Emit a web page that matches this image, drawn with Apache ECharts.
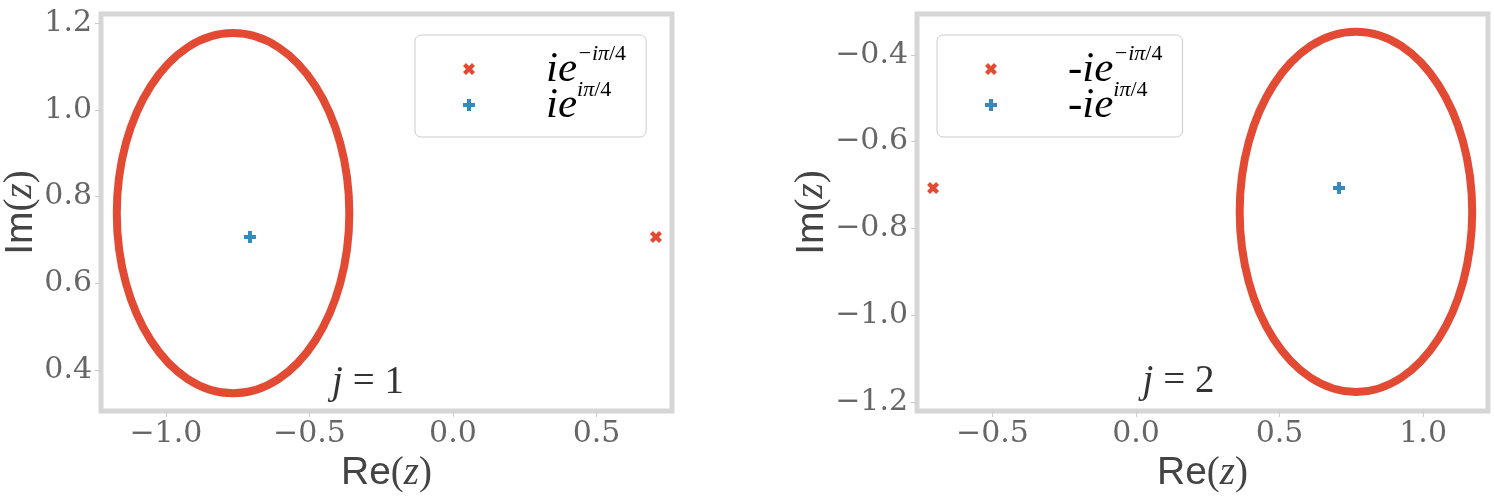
<!DOCTYPE html>
<html>
<head>
<meta charset="utf-8">
<script src="https://cdn.jsdelivr.net/npm/echarts@6/dist/echarts.min.js"></script>
<style>
  html, body { margin: 0; padding: 0; background: #fff; }
  #chart { width: 1494px; height: 504px; }
</style>
</head>
<body>
<div id="chart"></div>
<script>
// panel j = 1
var xTicks1 = [-1.0, -0.5, 0.0, 0.5];
var yTicks1 = [0.4, 0.6, 0.8, 1.0, 1.2];
var xRange1 = [-1.226, 0.763];
var yRange1 = [0.306, 1.221];
var redX1 = [[0.7071, 0.7071]];
var bluePlus1 = [[-0.7071, 0.7071]];
var ring1 = [[-0.766, 0.762, 0.405, 0.415]]; // cx, cy, rx, ry
var note1 = [[-0.296, 0.371]];

// panel j = 2
var xTicks2 = [-0.5, 0.0, 0.5, 1.0];
var yTicks2 = [-1.2, -1.0, -0.8, -0.6, -0.4];
var xRange2 = [-0.763, 1.226];
var yRange2 = [-1.221, -0.306];
var redX2 = [[-0.7071, -0.7071]];
var bluePlus2 = [[0.7071, -0.7071]];
var ring2 = [[0.766, -0.762, 0.405, 0.415]];
var note2 = [[0.148, -1.154]];

var RED = "#E24A33";
var BLUE = "#348ABD";
var FRAME = "#d6d6d6";
var PLUS = "path://M4,0L8,0L8,4L12,4L12,8L8,8L8,12L4,12L4,8L0,8L0,4L4,4Z";
var CROSS = "path://M0,3L3,0L6,3L9,0L12,3L9,6L12,9L9,12L6,9L3,12L0,9L3,6Z";
var SERIF = "'DejaVu Serif', 'Liberation Serif', serif";
var MATH = "'Liberation Serif', 'DejaVu Serif', serif";
var SANS = "'Liberation Sans', 'DejaVu Sans', sans-serif";

var myChart = echarts.init(document.getElementById("chart"));

function fmt(v) {
  return (v < 0 ? "\u2212" : "") + Math.abs(v).toFixed(1);
}

function ringItem(params, api) {
  var c = api.coord([api.value(0), api.value(1)]);
  var s = api.size([api.value(2), api.value(3)]);
  return {
    type: "ellipse",
    shape: { cx: c[0], cy: c[1], rx: s[0], ry: s[1] },
    style: { fill: "none", stroke: RED, lineWidth: 8 },
  };
}

var legendText = {
  r1: "{b|ie}{si|\u2212i\u03c0}{su|/4}",
  b1: "{b|ie}{si|i\u03c0}{su|/4}",
  r2: "{m|-}{b|ie}{si|\u2212i\u03c0}{su|/4}",
  b2: "{m|-}{b|ie}{si|i\u03c0}{su|/4}",
};

var legendRich = {
  b: { fontFamily: MATH, fontStyle: "italic", fontSize: 43, lineHeight: 48, verticalAlign: "bottom", color: "#000" },
  m: { fontFamily: MATH, fontSize: 43, lineHeight: 48, verticalAlign: "bottom", color: "#000" },
  si: { fontFamily: MATH, fontStyle: "italic", fontSize: 22, lineHeight: 20, verticalAlign: "top", color: "#000" },
  su: { fontFamily: MATH, fontSize: 22, lineHeight: 20, verticalAlign: "top", color: "#000" },
};

function makeLegend(left, names) {
  return {
    left: left,
    top: 35,
    orient: "vertical",
    data: [
      { name: names[0], icon: CROSS },
      { name: names[1], icon: PLUS },
    ],
    itemWidth: 12,
    itemHeight: 12,
    itemGap: -12,
    padding: [8, 20, 10, 48],
    backgroundColor: "#fff",
    borderColor: "#cccccc",
    borderWidth: 1,
    borderRadius: 6,
    formatter: function (name) {
      return legendText[name];
    },
    textStyle: { padding: [0, 0, 4, 66], rich: legendRich },
  };
}

var axisNameRich = {
  s: { fontFamily: SANS, fontSize: 39, color: "#444" },
  p: { fontFamily: MATH, fontSize: 39, color: "#444" },
  i: { fontFamily: MATH, fontStyle: "italic", fontSize: 39, color: "#444" },
};

function makeX(idx, range, ticks) {
  return {
    type: "value",
    gridIndex: idx,
    min: range[0],
    max: range[1],
    axisLine: { show: false, onZero: false },
    splitLine: { show: false },
    axisTick: { show: true, length: 6, customValues: ticks, lineStyle: { color: "#cccccc", width: 1 } },
    axisLabel: {
      customValues: ticks,
      formatter: fmt,
      margin: 8,
      fontFamily: SERIF,
      fontSize: 30,
      color: "#666",
    },
    name: "{s|Re}{p|(}{i|z}{p|)}",
    nameLocation: "middle",
    nameGap: 43,
    nameTextStyle: { rich: axisNameRich },
  };
}

function makeY(idx, range, ticks, gap) {
  return {
    type: "value",
    gridIndex: idx,
    min: range[0],
    max: range[1],
    axisLine: { show: false, onZero: false },
    splitLine: { show: false },
    axisTick: { show: true, length: 6, customValues: ticks, lineStyle: { color: "#cccccc", width: 1 } },
    axisLabel: {
      customValues: ticks,
      formatter: fmt,
      margin: 9,
      fontFamily: SERIF,
      fontSize: 30,
      color: "#666",
    },
    name: "{s|Im}{p|(}{i|z}{p|)}",
    nameLocation: "middle",
    nameGap: gap,
    nameTextStyle: { rich: axisNameRich },
  };
}

function noteSeries(idx, data, num) {
  return {
    type: "scatter",
    xAxisIndex: idx,
    yAxisIndex: idx,
    data: data,
    symbolSize: 0,
    silent: true,
    label: {
      show: true,
      position: "inside",
      formatter: "{j|j}{e| = " + num + "}",
      rich: {
        j: { fontFamily: MATH, fontStyle: "italic", fontSize: 39, color: "#000" },
        e: { fontFamily: MATH, fontSize: 39, color: "#000" },
      },
    },
  };
}

function pointSeries(name, idx, data, color, symbol) {
  return {
    name: name,
    type: "scatter",
    xAxisIndex: idx,
    yAxisIndex: idx,
    data: data,
    symbol: symbol,
    symbolSize: 12,
    itemStyle: { color: color, opacity: 1 },
  };
}

var option = {
  animation: false,
  backgroundColor: "#fff",
  grid: [
    { left: 101, top: 14, width: 571, height: 397, show: true, borderColor: FRAME, borderWidth: 5, backgroundColor: "#fff" },
    { left: 917, top: 14, width: 571, height: 397, show: true, borderColor: FRAME, borderWidth: 5, backgroundColor: "#fff" },
  ],
  xAxis: [makeX(0, xRange1, xTicks1), makeX(1, xRange2, xTicks2)],
  yAxis: [makeY(0, yRange1, yTicks1, 37), makeY(1, yRange2, yTicks2, 73)],
  legend: [makeLegend(415, ["r1", "b1"]), makeLegend(937, ["r2", "b2"])],
  series: [
    { type: "custom", xAxisIndex: 0, yAxisIndex: 0, renderItem: ringItem, data: ring1, encode: { x: 0, y: 1 } },
    pointSeries("r1", 0, redX1, RED, CROSS),
    pointSeries("b1", 0, bluePlus1, BLUE, PLUS),
    noteSeries(0, note1, 1),
    { type: "custom", xAxisIndex: 1, yAxisIndex: 1, renderItem: ringItem, data: ring2, encode: { x: 0, y: 1 } },
    pointSeries("r2", 1, redX2, RED, CROSS),
    pointSeries("b2", 1, bluePlus2, BLUE, PLUS),
    noteSeries(1, note2, 2),
  ],
};

myChart.setOption(option);
</script>
</body>
</html>
